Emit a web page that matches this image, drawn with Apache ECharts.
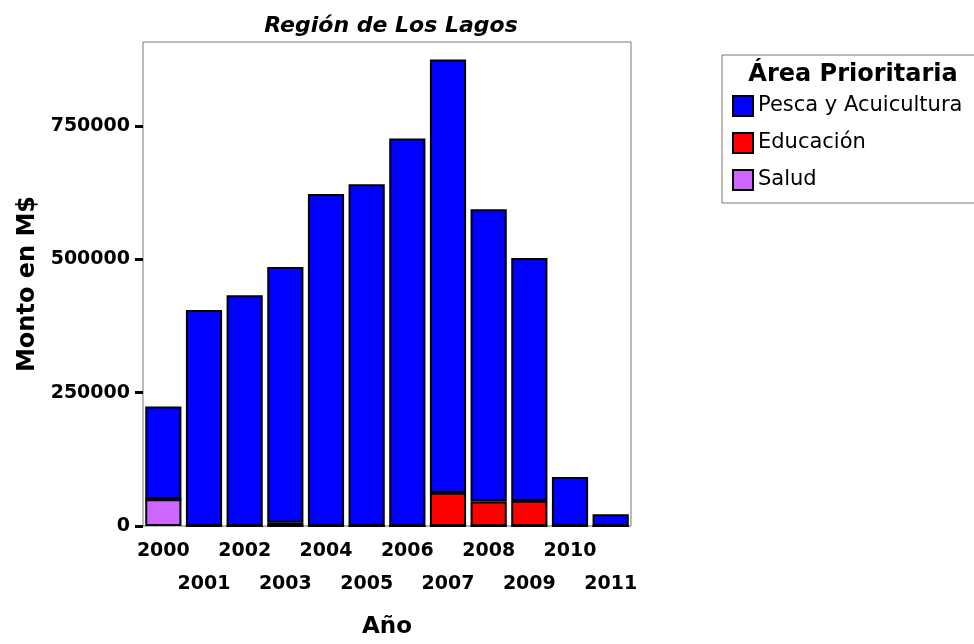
<!DOCTYPE html>
<html>
<head>
<meta charset="UTF-8">
<title>Región de Los Lagos</title>
<script type="text/javascript" src="https://cdn.jsdelivr.net/npm/echarts@6/dist/echarts.min.js"></script>
<style>
  html, body { margin: 0; padding: 0; background: #fff; }
</style>
</head>
<body>
    <div id="main" style="width: 974px; height: 644px;"></div>
    <script type="text/javascript">
        // datos
        var years = ['2000', '2001', '2002', '2003', '2004', '2005', '2006', '2007', '2008', '2009', '2010', '2011'];
        var salud = [50000, 0, 0, 0, 0, 0, 0, 0, 0, 0, 0, 0];
        var educacion = [0, 0, 0, 6000, 0, 0, 0, 62000, 46000, 47000, 0, 0];
        var pesca = [174000, 405000, 433000, 480000, 623000, 641000, 727000, 813000, 548000, 456000, 92000, 22000];
        var yTicks = [0, 250000, 500000, 750000];

        var fontFam = '"DejaVu Sans", sans-serif';
        var myChart = echarts.init(document.getElementById('main'));

        var option = {
            animation: false,
            title: {
                text: 'Región de Los Lagos',
                left: 386,
                textAlign: 'center',
                top: 10,
                textStyle: { fontFamily: fontFam, fontSize: 22, fontWeight: 'bold', fontStyle: 'italic', color: '#000' }
            },
            legend: {
                orient: 'vertical',
                left: 727,
                top: 90,
                itemWidth: 20,
                itemHeight: 20,
                itemGap: 15,
                icon: 'rect',
                data: ['Pesca y Acuicultura', 'Educación', 'Salud'],
                textStyle: { fontFamily: fontFam, fontSize: 21, color: '#000' }
            },
            graphic: [
                {
                    type: 'rect',
                    shape: { x: 722, y: 55, width: 270, height: 148 },
                    style: { fill: 'none', stroke: '#777', lineWidth: 1 }
                },
                {
                    type: 'text',
                    x: 853, y: 75,
                    style: {
                        text: 'Área Prioritaria',
                        fontFamily: fontFam, fontSize: 24, fontWeight: 'bold',
                        fill: '#000', align: 'center', verticalAlign: 'middle'
                    }
                }
            ],
            grid: {
                left: 143, right: 343, top: 42, bottom: 116,
                show: true, borderColor: '#777', borderWidth: 1,
                containLabel: false
            },
            xAxis: {
                type: 'category',
                data: years,
                name: 'Año',
                nameLocation: 'middle',
                nameGap: 90,
                nameTextStyle: { fontFamily: fontFam, fontSize: 23, fontWeight: 'bold', color: '#000' },
                axisLine: { show: false },
                axisTick: { alignWithLabel: true, length: 8, lineStyle: { color: '#000', width: 3 } },
                axisLabel: {
                    interval: 0,
                    margin: 9,
                    lineHeight: 33,
                    fontFamily: fontFam, fontSize: 19, fontWeight: 'bold', color: '#000',
                    formatter: function (v, i) { return i % 2 ? '\n' + v : v; }
                }
            },
            yAxis: {
                type: 'value',
                min: 0,
                max: 908000,
                interval: 250000,
                name: 'Monto en M$',
                nameLocation: 'middle',
                nameGap: 101,
                nameRotate: 90,
                nameTextStyle: { fontFamily: fontFam, fontSize: 24, fontWeight: 'bold', color: '#000' },
                splitLine: { show: false },
                axisLine: { show: false },
                axisTick: { show: true, length: 8, customValues: yTicks, lineStyle: { color: '#000', width: 3 } },
                axisLabel: {
                    margin: 13,
                    customValues: yTicks,
                    fontFamily: fontFam, fontSize: 19, fontWeight: 'bold', color: '#000',
                    formatter: function (v) { return String(v); }
                }
            },
            series: [
                {
                    name: 'Salud', type: 'bar', stack: 'total', data: salud,
                    barCategoryGap: '11%',
                    itemStyle: { color: '#CC66FF', borderColor: '#000', borderWidth: 2 }
                },
                {
                    name: 'Educación', type: 'bar', stack: 'total', data: educacion,
                    itemStyle: { color: '#FF0000', borderColor: '#000', borderWidth: 2 }
                },
                {
                    name: 'Pesca y Acuicultura', type: 'bar', stack: 'total', data: pesca,
                    itemStyle: { color: '#0000FF', borderColor: '#000', borderWidth: 2 }
                }
            ]
        };

        myChart.setOption(option);
    </script>
</body>
</html>
